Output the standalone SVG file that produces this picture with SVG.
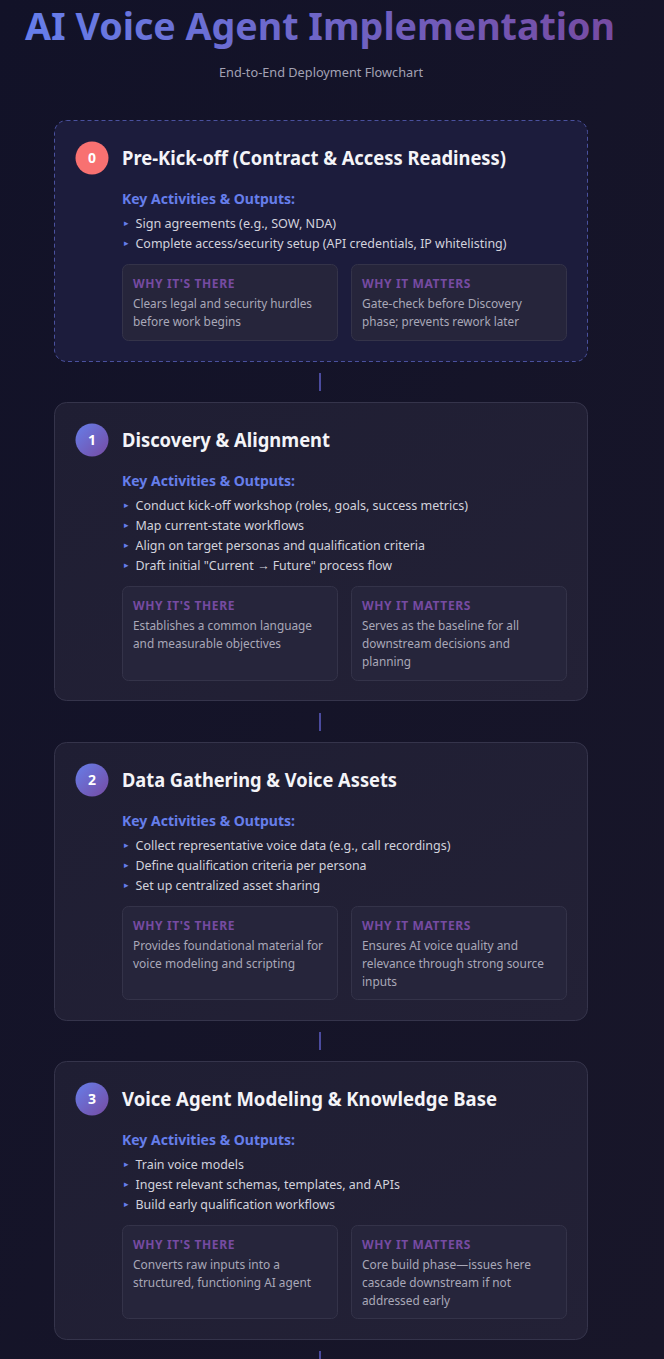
<svg xmlns="http://www.w3.org/2000/svg" width="664" height="1359" viewBox="0 0 664 1359">
  <defs>
    <linearGradient id="bg" x1="0" y1="0" x2="1" y2="1">
      <stop offset="0" stop-color="#121228"/>
      <stop offset="1" stop-color="#181629"/>
    </linearGradient>
    <linearGradient id="titleGrad" x1="25" y1="0" x2="615" y2="0" gradientUnits="userSpaceOnUse">
      <stop offset="0" stop-color="#667eea"/>
      <stop offset="1" stop-color="#764ba2"/>
    </linearGradient>
    <linearGradient id="badgeGrad" x1="0" y1="0" x2="1" y2="1">
      <stop offset="0" stop-color="#667eea"/>
      <stop offset="1" stop-color="#764ba2"/>
    </linearGradient>
    <linearGradient id="cardGrad" x1="0" y1="0" x2="1" y2="1">
      <stop offset="0" stop-color="#1f1e33"/>
      <stop offset="1" stop-color="#232136"/>
    </linearGradient>
    <style>
      text { font-family: "Noto Sans", "Open Sans", sans-serif; }
      .card { fill: url(#cardGrad); stroke: #35344b; stroke-width: 1; }
      .card0 { fill: #1c1c3c; stroke: #4a519e; stroke-width: 1; stroke-dasharray: 4 3; }
      .sub { fill: #26253b; stroke: #343349; stroke-width: 1; }
      .badge { fill: url(#badgeGrad); }
      .badge0 { fill: #f87171; }
      .num { font-size: 14px; font-weight: 700; fill: #ffffff; text-anchor: middle; }
      .stitle { font-size: 19px; font-weight: 700; fill: #f4f4f8; }
      .key { font-size: 15px; font-weight: 700; fill: #667eea; }
      .mark { font-size: 9px; fill: #667eea; font-family: "DejaVu Sans", sans-serif; }
      .bul { font-size: 13px; fill: #d2d2dc; }
      .lab { font-size: 12px; font-weight: 700; fill: #764ba2; letter-spacing: 0.6px; }
      .desc { font-size: 13px; fill: #a9a8b8; }
      .conn { stroke: #4b4b9e; stroke-width: 2; }
    </style>
  </defs>

  <rect x="0" y="0" width="664" height="1359" fill="url(#bg)"/>

  <g id="header">
    <text x="25" y="40" font-size="38" font-weight="700" fill="url(#titleGrad)" textLength="590" lengthAdjust="spacingAndGlyphs">AI Voice Agent Implementation</text>
    <text x="219" y="77" font-size="12" fill="#a3a2b4" textLength="204" lengthAdjust="spacingAndGlyphs">End-to-End Deployment Flowchart</text>
  </g>

  <g id="connectors">
    <line class="conn" x1="320" y1="373" x2="320" y2="391"/>
    <line class="conn" x1="320" y1="713" x2="320" y2="731"/>
    <line class="conn" x1="320" y1="1032" x2="320" y2="1050"/>
    <line class="conn" x1="320" y1="1351" x2="320" y2="1359"/>
  </g>

  <g id="step0">
    <rect class="card0" x="54.5" y="120.5" width="533" height="241" rx="12"/>
    <circle class="badge0" cx="92" cy="158" r="16.5"/>
    <text class="num" x="92" y="163">0</text>
    <text class="stitle" x="122" y="165" textLength="384" lengthAdjust="spacingAndGlyphs">Pre-Kick-off (Contract &amp; Access Readiness)</text>
    <text class="key" x="122" y="204" textLength="173" lengthAdjust="spacingAndGlyphs">Key Activities &amp; Outputs:</text>
    <text class="mark" x="124" y="226">▸</text>
    <text class="bul" x="135.5" y="228" textLength="200.5" lengthAdjust="spacingAndGlyphs">Sign agreements (e.g., SOW, NDA)</text>
    <text class="mark" x="124" y="246">▸</text>
    <text class="bul" x="135.5" y="248" textLength="371" lengthAdjust="spacingAndGlyphs">Complete access/security setup (API credentials, IP whitelisting)</text>
    <rect class="sub" x="122.5" y="264.5" width="215" height="76" rx="6"/>
    <text class="lab" x="133" y="288" textLength="102" lengthAdjust="spacingAndGlyphs">WHY IT'S THERE</text>
    <text class="desc" x="133" y="308" textLength="179" lengthAdjust="spacingAndGlyphs">Clears legal and security hurdles</text>
    <text class="desc" x="133" y="326" textLength="108" lengthAdjust="spacingAndGlyphs">before work begins</text>
    <rect class="sub" x="351.5" y="264.5" width="215" height="76" rx="6"/>
    <text class="lab" x="362" y="288" textLength="109" lengthAdjust="spacingAndGlyphs">WHY IT MATTERS</text>
    <text class="desc" x="362" y="308" textLength="160" lengthAdjust="spacingAndGlyphs">Gate-check before Discovery</text>
    <text class="desc" x="362" y="326" textLength="157" lengthAdjust="spacingAndGlyphs">phase; prevents rework later</text>
  </g>

  <g id="step1">
    <rect class="card" x="54.5" y="402.5" width="533" height="298" rx="12"/>
    <circle class="badge" cx="92" cy="440" r="16.5"/>
    <text class="num" x="92" y="445">1</text>
    <text class="stitle" x="122" y="447" textLength="208" lengthAdjust="spacingAndGlyphs">Discovery &amp; Alignment</text>
    <text class="key" x="122" y="486" textLength="173" lengthAdjust="spacingAndGlyphs">Key Activities &amp; Outputs:</text>
    <text class="mark" x="124" y="508">▸</text>
    <text class="bul" x="135.5" y="510" textLength="332.5" lengthAdjust="spacingAndGlyphs">Conduct kick-off workshop (roles, goals, success metrics)</text>
    <text class="mark" x="124" y="528">▸</text>
    <text class="bul" x="135.5" y="530" textLength="168.5" lengthAdjust="spacingAndGlyphs">Map current-state workflows</text>
    <text class="mark" x="124" y="548">▸</text>
    <text class="bul" x="135.5" y="550" textLength="289.5" lengthAdjust="spacingAndGlyphs">Align on target personas and qualification criteria</text>
    <text class="mark" x="124" y="568">▸</text>
    <text class="bul" x="135.5" y="570" textLength="256.5" lengthAdjust="spacingAndGlyphs">Draft initial "Current → Future" process flow</text>
    <rect class="sub" x="122.5" y="586.5" width="215" height="94" rx="6"/>
    <text class="lab" x="133" y="610" textLength="102" lengthAdjust="spacingAndGlyphs">WHY IT'S THERE</text>
    <text class="desc" x="133" y="630" textLength="179" lengthAdjust="spacingAndGlyphs">Establishes a common language</text>
    <text class="desc" x="133" y="648" textLength="148" lengthAdjust="spacingAndGlyphs">and measurable objectives</text>
    <rect class="sub" x="351.5" y="586.5" width="215" height="94" rx="6"/>
    <text class="lab" x="362" y="610" textLength="109" lengthAdjust="spacingAndGlyphs">WHY IT MATTERS</text>
    <text class="desc" x="362" y="630" textLength="157" lengthAdjust="spacingAndGlyphs">Serves as the baseline for all</text>
    <text class="desc" x="362" y="648" textLength="148" lengthAdjust="spacingAndGlyphs">downstream decisions and</text>
    <text class="desc" x="362" y="666" textLength="49" lengthAdjust="spacingAndGlyphs">planning</text>
  </g>

  <g id="step2">
    <rect class="card" x="54.5" y="742.5" width="533" height="278" rx="12"/>
    <circle class="badge" cx="92" cy="780" r="16.5"/>
    <text class="num" x="92" y="785">2</text>
    <text class="stitle" x="122" y="787" textLength="275" lengthAdjust="spacingAndGlyphs">Data Gathering &amp; Voice Assets</text>
    <text class="key" x="122" y="826" textLength="173" lengthAdjust="spacingAndGlyphs">Key Activities &amp; Outputs:</text>
    <text class="mark" x="124" y="848">▸</text>
    <text class="bul" x="135.5" y="850" textLength="315" lengthAdjust="spacingAndGlyphs">Collect representative voice data (e.g., call recordings)</text>
    <text class="mark" x="124" y="868">▸</text>
    <text class="bul" x="135.5" y="870" textLength="231" lengthAdjust="spacingAndGlyphs">Define qualification criteria per persona</text>
    <text class="mark" x="124" y="888">▸</text>
    <text class="bul" x="135.5" y="890" textLength="184.5" lengthAdjust="spacingAndGlyphs">Set up centralized asset sharing</text>
    <rect class="sub" x="122.5" y="906.5" width="215" height="93" rx="6"/>
    <text class="lab" x="133" y="930" textLength="102" lengthAdjust="spacingAndGlyphs">WHY IT'S THERE</text>
    <text class="desc" x="133" y="950" textLength="190" lengthAdjust="spacingAndGlyphs">Provides foundational material for</text>
    <text class="desc" x="133" y="968" textLength="162" lengthAdjust="spacingAndGlyphs">voice modeling and scripting</text>
    <rect class="sub" x="351.5" y="906.5" width="215" height="93" rx="6"/>
    <text class="lab" x="362" y="930" textLength="109" lengthAdjust="spacingAndGlyphs">WHY IT MATTERS</text>
    <text class="desc" x="362" y="950" textLength="156" lengthAdjust="spacingAndGlyphs">Ensures AI voice quality and</text>
    <text class="desc" x="362" y="968" textLength="182" lengthAdjust="spacingAndGlyphs">relevance through strong source</text>
    <text class="desc" x="362" y="986" textLength="35" lengthAdjust="spacingAndGlyphs">inputs</text>
  </g>

  <g id="step3">
    <rect class="card" x="54.5" y="1061.5" width="533" height="278" rx="12"/>
    <circle class="badge" cx="92" cy="1099" r="16.5"/>
    <text class="num" x="92" y="1104">3</text>
    <text class="stitle" x="122" y="1106" textLength="375" lengthAdjust="spacingAndGlyphs">Voice Agent Modeling &amp; Knowledge Base</text>
    <text class="key" x="122" y="1145" textLength="173" lengthAdjust="spacingAndGlyphs">Key Activities &amp; Outputs:</text>
    <text class="mark" x="124" y="1167">▸</text>
    <text class="bul" x="135.5" y="1169" textLength="108.5" lengthAdjust="spacingAndGlyphs">Train voice models</text>
    <text class="mark" x="124" y="1187">▸</text>
    <text class="bul" x="135.5" y="1189" textLength="264.5" lengthAdjust="spacingAndGlyphs">Ingest relevant schemas, templates, and APIs</text>
    <text class="mark" x="124" y="1207">▸</text>
    <text class="bul" x="135.5" y="1209" textLength="199.5" lengthAdjust="spacingAndGlyphs">Build early qualification workflows</text>
    <rect class="sub" x="122.5" y="1225.5" width="215" height="93" rx="6"/>
    <text class="lab" x="133" y="1249" textLength="102" lengthAdjust="spacingAndGlyphs">WHY IT'S THERE</text>
    <text class="desc" x="133" y="1269" textLength="147" lengthAdjust="spacingAndGlyphs">Converts raw inputs into a</text>
    <text class="desc" x="133" y="1287" textLength="178" lengthAdjust="spacingAndGlyphs">structured, functioning AI agent</text>
    <rect class="sub" x="351.5" y="1225.5" width="215" height="93" rx="6"/>
    <text class="lab" x="362" y="1249" textLength="109" lengthAdjust="spacingAndGlyphs">WHY IT MATTERS</text>
    <text class="desc" x="362" y="1269" textLength="169" lengthAdjust="spacingAndGlyphs">Core build phase—issues here</text>
    <text class="desc" x="362" y="1287" textLength="149" lengthAdjust="spacingAndGlyphs">cascade downstream if not</text>
    <text class="desc" x="362" y="1305" textLength="88" lengthAdjust="spacingAndGlyphs">addressed early</text>
  </g>
</svg>
